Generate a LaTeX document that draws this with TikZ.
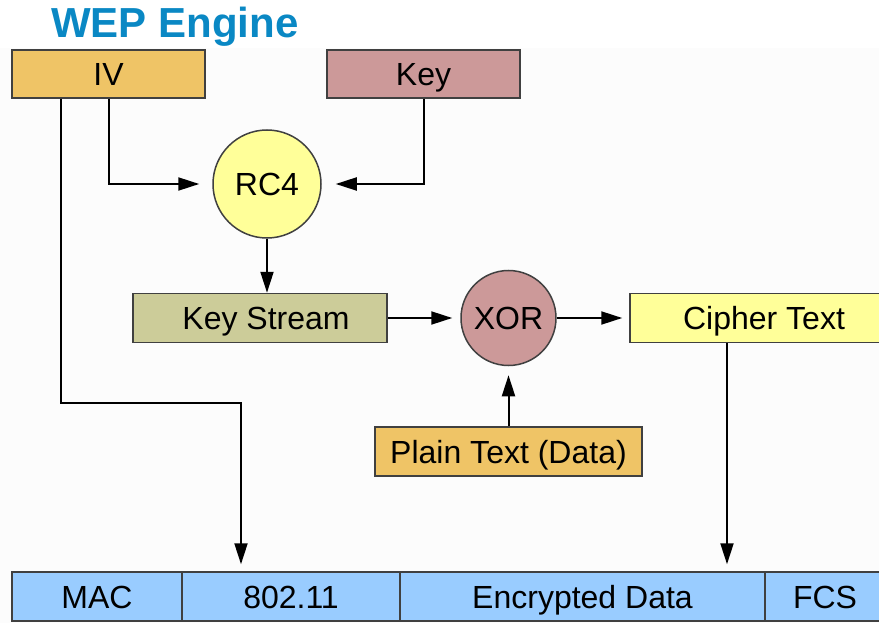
\documentclass[tikz,border=0pt]{standalone}
\usepackage{fontspec}
\setmainfont{Liberation Sans}
\usetikzlibrary{arrows.meta}

\definecolor{titleblue}{RGB}{10,136,196}
\definecolor{ivorange}{RGB}{239,196,102}
\definecolor{keyrose}{RGB}{204,153,153}
\definecolor{paleyellow}{RGB}{255,255,153}
\definecolor{olive}{RGB}{204,204,153}
\definecolor{frameblue}{RGB}{153,204,255}
\definecolor{edgegray}{RGB}{64,64,64}
\definecolor{backdrop}{RGB}{252,252,252}

\tikzset{
  lbl/.style={font=\fontsize{32}{36}\selectfont, text height=23pt, text depth=0pt, inner sep=0pt},
  blockbox/.style={lbl, draw=edgegray, line width=1.5pt, rectangle, minimum height=48pt},
  roundop/.style={lbl, draw=edgegray, line width=1.5pt, circle},
  field/.style={blockbox, fill=frameblue, minimum height=49pt},
  arr/.style={line width=2pt, -{Triangle[length=21pt,width=13pt]}},
}

\begin{document}
\begin{tikzpicture}[x=1pt, y=-1pt]
  \useasboundingbox (0,0) rectangle (879,623);
  \fill[backdrop] (0,48) rectangle (879,623);

  % heading
  \node[anchor=base west, inner sep=0pt, text=titleblue,
        font=\fontsize{42}{48}\selectfont\bfseries] (title) at (51,38) {WEP Engine};

  % inputs
  \node[blockbox, fill=ivorange, minimum width=193pt] (iv) at (108.5,74) {IV};
  \node[blockbox, fill=keyrose, minimum width=193pt] (key) at (423.5,74) {Key};

  % cipher stages
  \node[roundop, fill=paleyellow, minimum size=108pt] (rc4) at (267,184) {RC4};
  \node[blockbox, fill=olive, minimum width=254pt, minimum height=49pt] (ks) at (260,318) {\hspace*{12pt}Key Stream};
  \node[roundop, fill=keyrose, minimum size=95pt] (xor) at (508.5,318) {XOR};
  \node[blockbox, fill=paleyellow, minimum width=268pt, minimum height=49pt] (ct) at (764,318) {Cipher Text};
  \node[blockbox, fill=ivorange, minimum width=267pt, minimum height=49pt] (pt) at (508.5,451.5) {Plain Text (Data)};

  % 802.11 frame
  \node[field, minimum width=170pt] (mac) at (97,596.5) {MAC};
  \node[field, minimum width=218pt] (hdr) at (291,596.5) {802.11};
  \node[field, minimum width=365pt] (enc) at (582.5,596.5) {Encrypted Data};
  \node[field, minimum width=120pt] (fcs) at (825,596.5) {FCS};

  % IV and key feed RC4
  \draw[arr, shorten >=13pt] (iv.south) |- (rc4.west);
  \draw[arr, shorten >=14pt] (key.south) |- (rc4.east);
  \draw[arr] (rc4.south) -- (rc4.south |- ks.north);

  % keystream combined with plain text
  \draw[arr, shorten >=8pt] (ks.east) -- (xor.west);
  \draw[arr, shorten >=9pt] (pt.north) -- (xor.south);
  \draw[arr, shorten >=7pt] (xor.east) -- (ct.west);

  % IV and cipher text placed into the frame
  \coordinate (ivturn) at (241,403);
  \draw[arr, shorten >=7pt] ([xshift=-47.5pt]iv.south) |- (ivturn) -- (ivturn |- hdr.north);
  \draw[arr, shorten >=7pt] ([xshift=-37pt]ct.south) -- ([xshift=-37pt]ct.south |- enc.north);
\end{tikzpicture}
\end{document}
